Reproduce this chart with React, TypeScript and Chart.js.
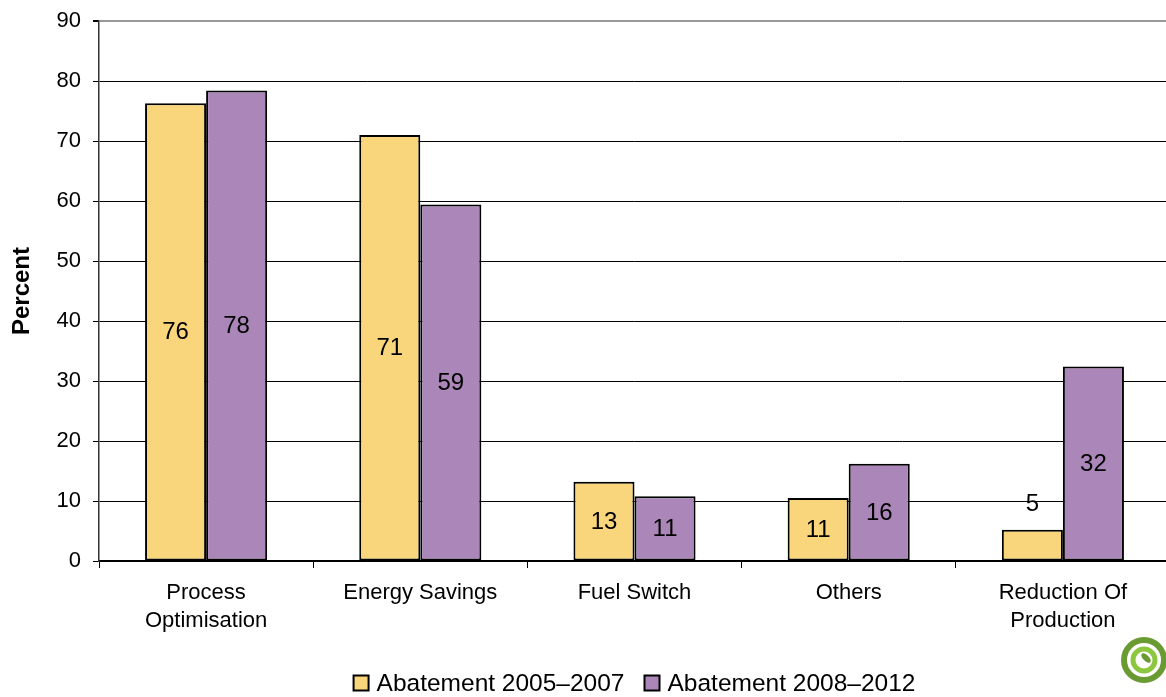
import React, { useEffect, useRef } from 'react';
import { Chart, registerables } from 'chart.js';

Chart.register(...registerables);

const categories: string[][] = [
  ['Process', 'Optimisation'],
  ['Energy Savings'],
  ['Fuel Switch'],
  ['Others'],
  ['Reduction Of', 'Production'],
];
const seriesNames = ['Abatement 2005–2007', 'Abatement 2008–2012'];
const abatement20052007 = [76.3, 71.0, 13.2, 10.5, 5.2];
const abatement20082012 = [78.4, 59.4, 10.8, 16.2, 32.4];
const yMin = 0;
const yMax = 90;
const yStep = 10;
const seriesColors = ['#F9D57C', '#AB87B9'];
const yTitle = 'Percent';

const FONT = '"Liberation Sans", Arial, sans-serif';

const valueLabels = {
  id: 'valueLabels',
  afterDatasetsDraw(chart: any) {
    const { ctx } = chart;
    ctx.save();
    ctx.font = `24px ${FONT}`;
    ctx.fillStyle = '#000';
    ctx.textAlign = 'center';
    ctx.textBaseline = 'middle';
    chart.data.datasets.forEach((ds: any, i: number) => {
      chart.getDatasetMeta(i).data.forEach((el: any, j: number) => {
        const v = ds.data[j] as number;
        const { x, y, base } = el.getProps(['x', 'y', 'base'], true);
        const h = base - y;
        const ty = h > 45 ? (y + base) / 2 : y - 26;
        ctx.fillText(String(Math.round(v)), x, ty + 1);
      });
    });
    ctx.restore();
  },
};

const legendAndLogo = {
  id: 'legendAndLogo',
  afterDraw(chart: any) {
    const { ctx } = chart;
    const { left, right } = chart.chartArea;
    ctx.save();
    ctx.font = `24.5px ${FONT}`;
    const box = 15;
    const gapBT = 8;
    const gapItem = 20;
    const widths = seriesNames.map((n) => ctx.measureText(n).width);
    const total = widths.reduce((a, w) => a + box + gapBT + w, 0) + gapItem * (seriesNames.length - 1);
    let x = (left + right) / 2 - total / 2;
    const cy = chart.height - 14;
    ctx.textBaseline = 'middle';
    ctx.textAlign = 'left';
    seriesNames.forEach((n, i) => {
      ctx.fillStyle = seriesColors[i];
      ctx.fillRect(x, cy - box / 2, box, box);
      ctx.strokeStyle = '#000';
      ctx.lineWidth = 2;
      ctx.strokeRect(x, cy - box / 2, box, box);
      ctx.fillStyle = '#000';
      ctx.fillText(n, x + box + gapBT, cy + 1);
      x += box + gapBT + widths[i] + gapItem;
    });

    // logo
    const lx = chart.width - 28;
    const ly = chart.height - 37;
    ctx.lineWidth = 6;
    ctx.strokeStyle = '#6A9B32';
    ctx.beginPath();
    ctx.arc(lx, ly, 20, 0, Math.PI * 2);
    ctx.stroke();
    ctx.strokeStyle = '#8DC63F';
    ctx.lineWidth = 5;
    ctx.beginPath();
    ctx.arc(lx, ly, 11, 0, Math.PI * 2);
    ctx.stroke();
    ctx.fillStyle = '#6A9B32';
    ctx.beginPath();
    ctx.ellipse(lx + 2, ly - 2, 6, 3, Math.PI / 4, 0, Math.PI * 2);
    ctx.fill();
    ctx.restore();
  },
};

export default function App() {
  const ref = useRef<HTMLCanvasElement>(null);
  useEffect(() => {
    const chart = new Chart(ref.current as HTMLCanvasElement, {
      type: 'bar',
      data: {
        labels: categories as any,
        datasets: [
          {
            label: seriesNames[0],
            data: abatement20052007,
            backgroundColor: seriesColors[0],
            borderColor: '#000',
            borderWidth: 2,
            borderSkipped: false,
            categoryPercentage: 0.57,
            barPercentage: 1,
          },
          {
            label: seriesNames[1],
            data: abatement20082012,
            backgroundColor: seriesColors[1],
            borderColor: '#000',
            borderWidth: 2,
            borderSkipped: false,
            categoryPercentage: 0.57,
            barPercentage: 1,
          },
        ],
      },
      options: {
        animation: false,
        responsive: false,
        maintainAspectRatio: false,
        layout: { padding: { top: 21, right: 2, left: 0, bottom: 0 } },
        plugins: { legend: { display: false }, tooltip: { enabled: false } },
        scales: {
          x: {
            offset: true,
            grid: { offset: true, drawOnChartArea: false, color: '#000', tickLength: 7, lineWidth: 1 },
            border: { color: '#000', width: 1.5 },
            ticks: {
              color: '#000',
              font: { family: FONT, size: 22, lineHeight: 1.28 },
              padding: 11,
              maxRotation: 0,
              autoSkip: false,
            },
            afterFit: (s: any) => {
              s.height = 136;
            },
          },
          y: {
            min: yMin,
            max: yMax,
            ticks: { stepSize: yStep, color: '#000', font: { family: FONT, size: 22, lineHeight: 0.8 }, padding: 12 },
            grid: {
              color: (c: any) => (c.tick && c.tick.value === yMax ? '#999' : '#000'),
              lineWidth: (c: any) => (c.tick && c.tick.value === yMax ? 2 : 1),
              tickColor: '#000',
              tickLength: 6,
            },
            border: { color: '#333', width: 1.5 },
            title: {
              display: true,
              text: yTitle,
              color: '#000',
              font: { family: FONT, size: 24, weight: 'bold' },
              padding: { top: 8, bottom: 0 },
            },
            afterFit: (s: any) => {
              s.width = 99;
            },
          },
        },
      },
      plugins: [valueLabels, legendAndLogo],
    } as any);
    return () => chart.destroy();
  }, []);
  return (
    <div
      style={{
        position: 'fixed',
        left: 0,
        top: 0,
        width: 1166,
        height: 697,
        overflow: 'hidden',
        background: '#fff',
      }}
    >
      <canvas ref={ref} width={1172} height={697} style={{ display: 'block', width: 1172, height: 697 }} />
    </div>
  );
}
